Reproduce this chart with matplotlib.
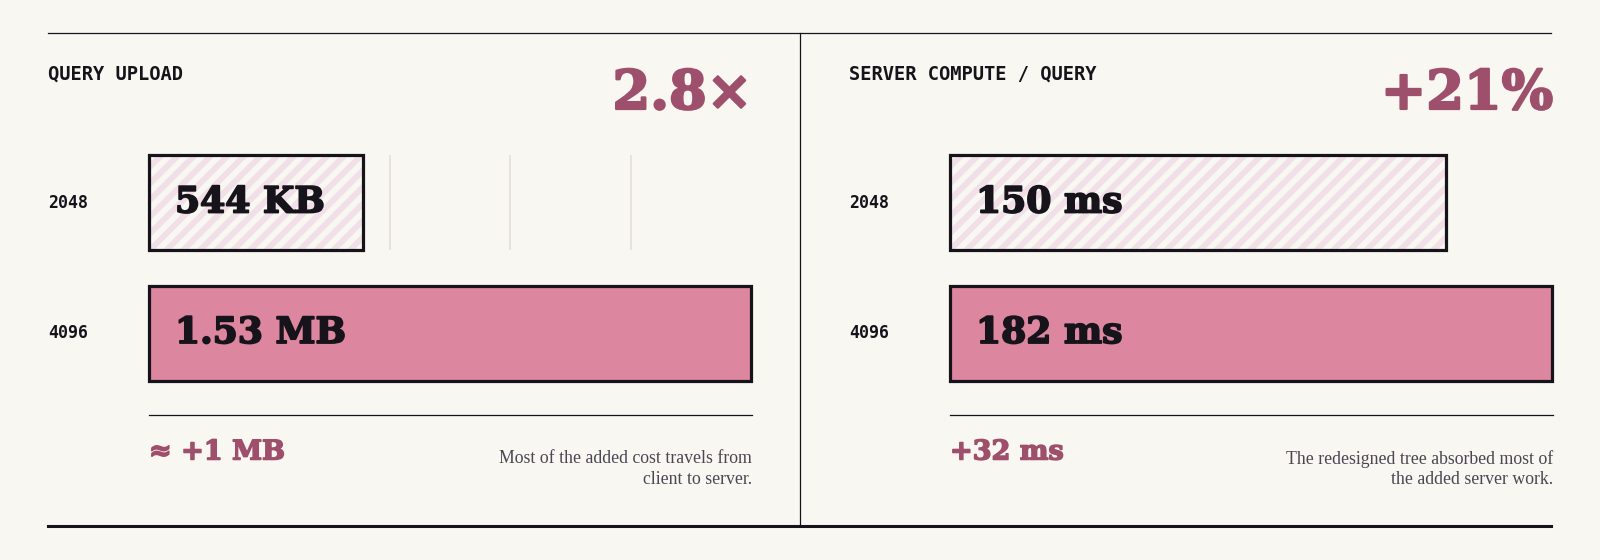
import matplotlib
matplotlib.use("Agg")
import matplotlib.pyplot as plt
import matplotlib.transforms as mtransforms
import matplotlib.patheffects as pe

# --- data -------------------------------------------------------------
titles = ["QUERY UPLOAD", "SERVER COMPUTE / QUERY"]
sizes = ["2048", "4096"]
upload_kb = [544, 1530]
upload_labels = ["544 KB", "1.53 MB"]
compute_ms = [150, 182]
compute_labels = ["150 ms", "182 ms"]
headlines = ["2.8\u00d7", "+21%"]
deltas = ["\u2248 +1 MB", "+32 ms"]
notes = ["Most of the added cost travels from\nclient to server.",
         "The redesigned tree absorbed most of\nthe added server work."]

# --- style ------------------------------------------------------------
bg = "#f9f7f2"
ink = "#16141a"
accent = "#9e4f6b"
fill = "#dc86a0"
stripe = "#f2e0e8"
grid_c = "#e2dfd7"
note_c = "#4b4652"
serif_bold = "DejaVu Serif"
mono = "DejaVu Sans Mono"

plt.rcParams["hatch.linewidth"] = 4.3

W, H = 1600, 560
fig = plt.figure(figsize=(W / 100, H / 100), dpi=100, facecolor=bg)


def fx(x):
    return x / W


def fy(y):
    return 1 - y / H


def heavy(c, w=1.3):
    # thicken the serif glyphs a little, the original face is very heavy
    return [pe.withStroke(linewidth=w, foreground=c)]


# frame lines
fig.add_artist(plt.Line2D([fx(48), fx(1551)], [fy(32.7), fy(32.7)], color=ink, lw=0.9))
fig.add_artist(plt.Line2D([fx(48), fx(1551)], [fy(525.5), fy(525.5)], color=ink, lw=2.2))
fig.add_artist(plt.Line2D([fx(800), fx(800)], [fy(32.7), fy(525.5)], color=ink, lw=0.9))

panel_vals = [upload_kb, compute_ms]
panel_labels = [upload_labels, compute_labels]
offsets = [0, 801]
bar_h = 0.728
ypos = [1, 0]  # 2048 on top, 4096 below

for p in range(2):
    off = offsets[p]
    x0, x1 = 149 + off, 751 + off
    vals = panel_vals[p]
    xmax = max(vals)

    # title and headline number
    fig.text(fx(48 + off), fy(74.5), titles[p], fontsize=13.5, fontweight="bold",
             family=mono, color=ink, ha="left", va="center")
    fig.text(fx(x1 + 1), fy(109), headlines[p], fontsize=39, fontweight="bold",
             family=serif_bold, color=accent, ha="right", va="baseline",
             path_effects=heavy(accent, 1.6))

    ax = fig.add_axes([fx(x0), fy(380), fx(x1 - x0), (380 - 155) / H])
    ax.set_xlim(0, xmax)
    ax.set_ylim(-0.36, 1.364)
    ax.axis("off")

    # faint guide lines per row
    for y in ypos:
        ax.vlines([xmax * k / 5 for k in range(1, 5)], y - bar_h / 2, y + bar_h / 2,
                  color=grid_c, lw=1.2, zorder=0)

    # 2048: striped bar, 4096: solid bar
    ax.barh(ypos[0], vals[0], height=bar_h, left=0, color=bg, edgecolor=stripe,
            hatch="//", linewidth=0, zorder=1, clip_on=False)
    ax.barh(ypos[0], vals[0], height=bar_h, left=0, color="none", edgecolor=ink,
            linewidth=2.3, zorder=2, clip_on=False)
    ax.barh(ypos[1], vals[1], height=bar_h, left=0, color=fill, edgecolor=ink,
            linewidth=2.3, zorder=2, clip_on=False)

    trans = mtransforms.blended_transform_factory(fig.transFigure, ax.transData)
    for i, y in enumerate(ypos):
        ax.annotate(panel_labels[p][i], xy=(0, y), xytext=(26, 0),
                    textcoords="offset pixels", fontsize=26, fontweight="bold",
                    family=serif_bold, color=ink, ha="left", va="center", zorder=3,
                    path_effects=heavy(ink, 1.3))
        ax.text(fx(48 + off), y, sizes[i], transform=trans, fontsize=12,
                fontweight="bold", family=mono, color=ink, ha="left", va="center")

    # separator, delta and note
    fig.add_artist(plt.Line2D([fx(x0), fx(x1 + 1)], [fy(415), fy(415)], color=ink, lw=0.9))
    fig.text(fx(x0), fy(452), deltas[p], fontsize=19.5, fontweight="bold",
             family=serif_bold, color=accent, ha="left", va="center",
             path_effects=heavy(accent, 1.1))
    fig.text(fx(x1 + 1), fy(469), notes[p], fontsize=12.8, family="Liberation Serif",
             color=note_c, ha="right", va="center", linespacing=1.25, multialignment="right")

fig.savefig("out.png", dpi=100, facecolor=bg)
